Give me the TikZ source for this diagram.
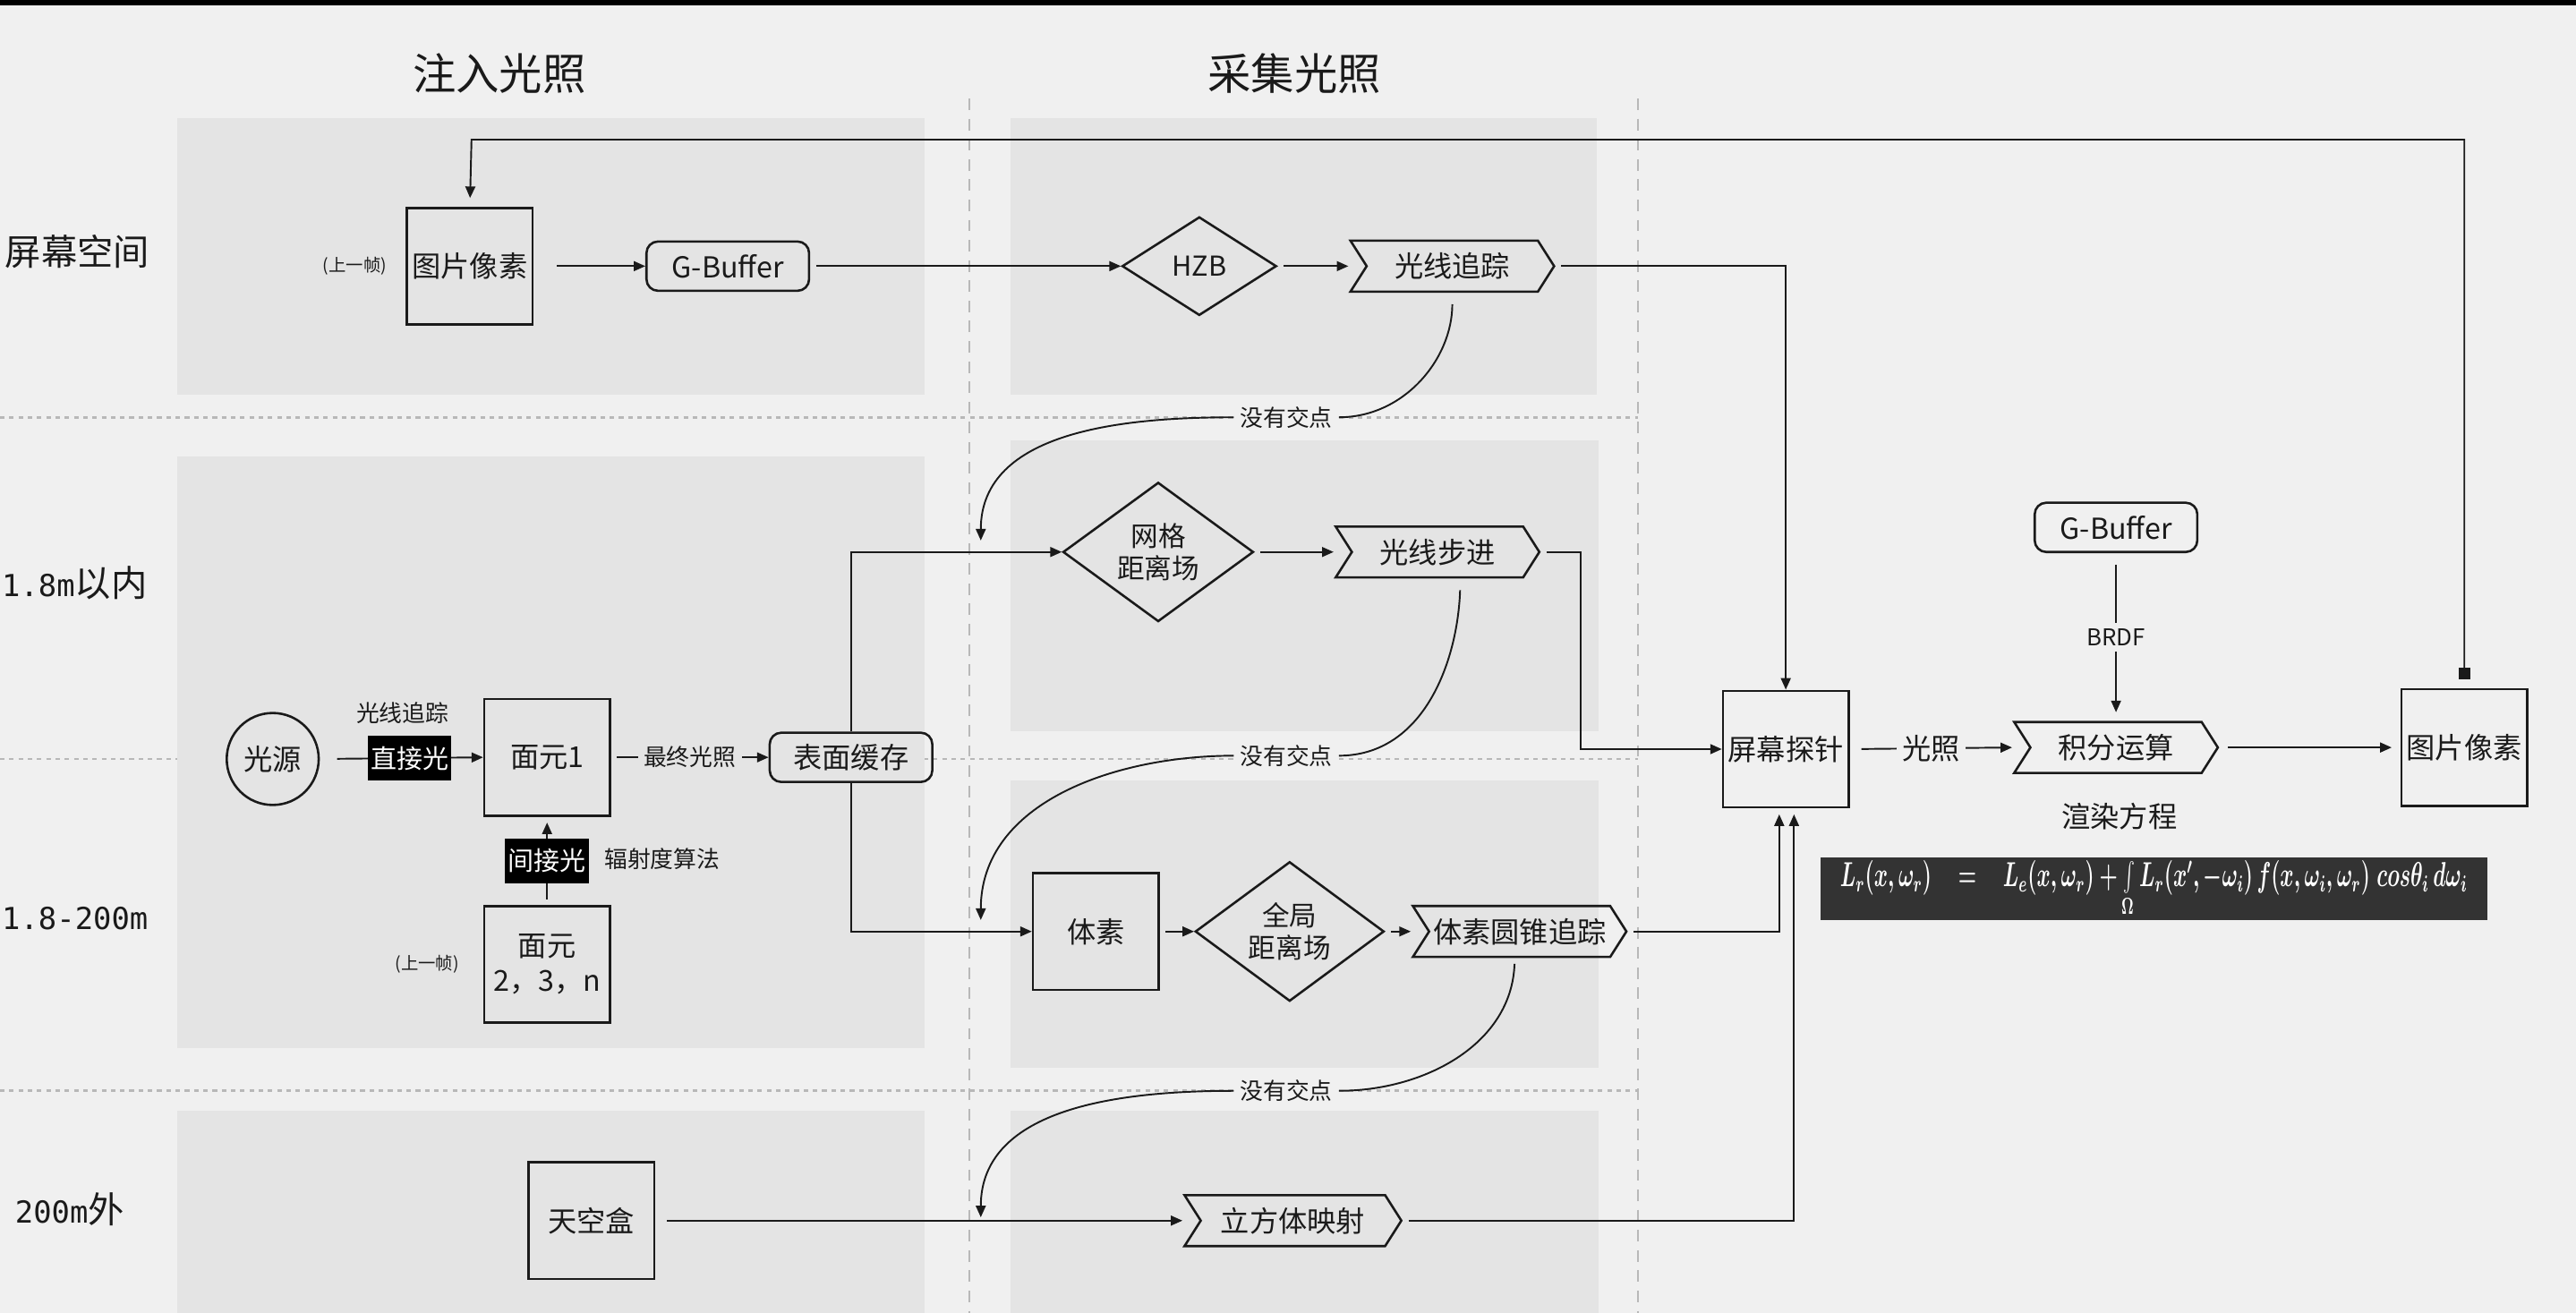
\documentclass[tikz,border=0pt]{standalone}
\usepackage{graphicx}
\usepackage{fontspec}
\setmainfont{Noto Sans CJK SC}
\newfontfamily\monofnt{DejaVu Sans Mono}
\usetikzlibrary{shapes.geometric,shapes.symbols,arrows.meta,calc}

\definecolor{pagebg}{HTML}{F0F0F0}
\definecolor{panelbg}{HTML}{E4E4E4}
\definecolor{gridline}{HTML}{B8B8B8}
\definecolor{ink}{HTML}{1A1A1A}
\definecolor{eqbg}{HTML}{333333}

\begin{document}
\begin{tikzpicture}[x=0.02cm,y=-0.02cm,
  font=\fontsize{10}{12}\selectfont,
  every node/.style={text=ink},
  boxnode/.style={draw=ink,line width=0.8pt,minimum width=1.53cm,minimum height=1.42cm,inner sep=1pt,align=center},
  roundnode/.style={draw=ink,line width=0.8pt,rounded corners=4pt,minimum width=1.98cm,minimum height=0.6cm,inner sep=1pt},
  decision/.style={diamond,draw=ink,line width=0.8pt,inner sep=0pt,align=center,font=\fontsize{9.5}{11}\selectfont},
  process/.style={signal,signal from=west,signal to=east,signal pointer angle=115,draw=ink,line width=0.8pt,minimum height=0.62cm,inner sep=1pt},
  darklabel/.style={fill=black,text=white,minimum width=0.96cm,minimum height=0.55cm,inner sep=1pt,font=\fontsize{9}{10}\selectfont},
  smalltext/.style={font=\fontsize{8}{9}\selectfont},
  tinytext/.style={font=\fontsize{6}{7}\selectfont},
  rowlabel/.style={anchor=west,font=\fontsize{12.5}{14}\selectfont},
  coltitle/.style={font=\fontsize{15}{18}\selectfont},
  wire/.style={draw=ink,line width=0.6pt},
  conn/.style={wire,-{Triangle[length=4pt,width=3.4pt]}},
  gapfill/.style={fill=#1,inner sep=2pt},
]
\useasboundingbox (0,0) rectangle (1568,799);

% page background and top band
\fill[pagebg] (0,0) rectangle (1568,799);
\fill[black] (0,0) rectangle (1568,3.5);

% guide lines between rows and columns
\begin{scope}[gridline,line width=0.8pt,dash pattern=on 1.6pt off 1.6pt]
  \draw (0,254) -- (997,254);
  \draw (0,462) -- (997,462);
  \draw (0,664) -- (997,664);
\end{scope}
\begin{scope}[gridline,line width=0.5pt,dash pattern=on 4pt off 3pt]
  \draw (590,60) -- (590,799);
  \draw (997,60) -- (997,799);
\end{scope}

% shaded panels
\begin{scope}[panelbg]
  \fill (108,72) rectangle (563,240);
  \fill (108,278) rectangle (563,638);
  \fill (108,676) rectangle (563,799);
  \fill (615,72) rectangle (972,240);
  \fill (615,268) rectangle (973,445);
  \fill (615,475) rectangle (973,650);
  \fill (615,676) rectangle (973,799);
\end{scope}

% column titles
\node[coltitle] (titleA) at (304,45) {注入光照};
\node[coltitle] (titleB) at (788,45) {采集光照};

% row labels
\node[rowlabel] (rowA) at (-3,153) {屏幕空间};
\node[rowlabel] (rowB) at (-5,355) {{\monofnt\fontsize{10.5}{12}\selectfont 1.8m}以内};
\node[rowlabel] (rowC) at (-5,559) {{\monofnt\fontsize{10.5}{12}\selectfont 1.8-200m}};
\node[rowlabel] (rowD) at (3,736) {{\monofnt\fontsize{10.5}{12}\selectfont 200m}外};

% screen space row
\node[boxnode] (pixA) at (286,162) {图片像素};
\node[tinytext] (prevA) at (216,162) {(上一帧)};
\node[roundnode] (gbA) at (443,162) {G-Buffer};
\node[decision,minimum width=1.88cm,minimum height=1.2cm] (hzb) at (730,162) {HZB};
\node[process,minimum width=2.48cm] (rt) at (884,162) {光线追踪};

% near field row
\node[decision,minimum width=2.32cm,minimum height=1.4cm] (sdf) at (705,336) {网格\\距离场};
\node[process,minimum width=2.48cm] (rm) at (875,336) {光线步进};
\node[circle,draw=ink,line width=0.8pt,minimum size=1.12cm,inner sep=0pt] (light) at (166,462) {光源};
\node[boxnode] (f1) at (333,461) {面元1};
\node[roundnode] (cache) at (518,461) {表面缓存};
\node[boxnode] (fn) at (333,587) {面元\\2，3，n};
\node[tinytext] (prevB) at (260,587) {(上一帧)};
\node[smalltext] (radio) at (403,523) {辐射度算法};
\node[smalltext] (rtlbl) at (245,434) {光线追踪};

% mid field row
\node[boxnode] (vox) at (667,567) {体素};
\node[decision,minimum width=2.3cm,minimum height=1.42cm] (gsdf) at (785,567) {全局\\距离场};
\node[process,minimum width=2.6cm] (cone) at (925,567) {体素圆锥追踪};

% far field row
\node[boxnode] (sky) at (360,743) {天空盒};
\node[process,minimum width=2.64cm] (cube) at (787,743) {立方体映射};

% final gather
\node[boxnode] (probe) at (1087,456) {屏幕探针};
\node[process,minimum width=2.48cm] (integ) at (1288,455) {积分运算};
\node[roundnode] (gbB) at (1288,321) {G-Buffer};
\node[boxnode] (pixB) at (1500,455) {图片像素};
\node (rendereq) at (1290,497) {渲染方程};
\node[fill=eqbg,text=white,minimum width=8.12cm,minimum height=0.76cm,inner sep=0pt,font=\fontsize{11.5}{13}\selectfont\boldmath] (eq) at (1311,541)
  {\scalebox{0.6}[1]{$L_r(x,\omega_r)\quad=\quad L_e(x,\omega_r)+\int\limits_\Omega L_r(x',-\omega_i)\,f(x,\omega_i,\omega_r)\;cos\theta_i\,d\omega_i$}};

% "no hit" labels
\node[smalltext,gapfill=pagebg] (miss1) at (783,254) {没有交点};
\node[smalltext,gapfill=pagebg] (miss2) at (783,460) {没有交点};
\node[smalltext,gapfill=pagebg] (miss3) at (783,664) {没有交点};

% free ends and bends
\coordinate (hit1) at (597,329);
\coordinate (hit2) at (597,560);
\coordinate (hit3) at (597,741);
\coordinate (rmturn) at (962,336);
\coordinate (probeL) at ($(probe.south)+(-4,0)$);
\coordinate (probeR) at ($(probe.south)+(5,0)$);
\coordinate (fbR) at (1500,85);
\coordinate (fbL) at (287,85);
\coordinate (rmfoot) at ($(rm.south)+(14,0)$);
\coordinate (conefoot) at ($(cone.south)+(-3,0)$);

% connectors: screen space
\draw[conn,shorten <=8pt] (pixA.east) -- (gbA.west);
\draw[conn,shorten <=2pt] (gbA.east) -- (hzb.west);
\draw[conn,shorten <=2pt] (hzb.east) -- (rt.north west |- rt.center);
\draw[conn,shorten <=2pt] (rt.east) -| (probe.north);
\draw[wire,{Square[length=4pt,width=4pt]}-{Triangle[length=4pt,width=3.4pt]},shorten <=3pt,shorten >=3pt]
  (pixB.north) -- (fbR) -- (fbL) -- (pixA.north);

% connectors: injection
\draw[conn,shorten <=6pt] (light.east) -- node[darklabel,pos=0.55] (direct) {直接光} (f1.west);
\draw[conn,shorten <=2pt,shorten >=2pt] (fn.north) -- node[darklabel] (indirect) {间接光} (f1.south);
\draw[conn,shorten <=2pt] (f1.east) -- node[smalltext,gapfill=panelbg] (final) {最终光照} (cache.west);

% connectors: gathering
\draw[conn] (cache.north) |- (sdf.west);
\draw[conn] (cache.south) |- (vox.west);
\draw[conn,shorten <=2pt] (sdf.east) -- (rm.north west |- rm.center);
\draw[conn,shorten <=2pt] (rm.east) -- (rmturn) |- (probe.west);
\draw[conn,shorten <=2pt] (vox.east) -- (gsdf.west);
\draw[conn,shorten <=2pt] (gsdf.east) -- (cone.north west |- cone.center);
\draw[conn,shorten <=2pt,shorten >=2pt] (cone.east) -| (probeL);
\draw[conn,shorten <=4pt] (sky.east) -- (cube.north west |- cube.center);
\draw[conn,shorten <=2pt,shorten >=2pt] (cube.east) -| (probeR);

% fallbacks when a trace finds no hit
\draw[wire,shorten <=4pt] (rt.south) to[out=-90,in=0] (miss1.east);
\draw[conn] (miss1.west) to[out=180,in=90] (hit1);
\draw[wire,shorten <=4pt] (rmfoot) to[out=-92,in=0] (miss2.east);
\draw[conn] (miss2.west) to[out=180,in=90] (hit2);
\draw[wire,shorten <=2pt] (conefoot) to[out=-92,in=0] (miss3.east);
\draw[conn] (miss3.west) to[out=180,in=90] (hit3);

% shading
\draw[conn,shorten <=4pt] (probe.east) -- node[gapfill=pagebg] (lightlbl) {光照} (integ.north west |- integ.center);
\draw[conn,shorten <=4pt,shorten >=3pt] (gbB.south) -- node[smalltext,gapfill=pagebg] (brdf) {BRDF} (integ.north);
\draw[conn,shorten <=3pt,shorten >=3pt] (integ.east) -- (pixB.west);
\end{tikzpicture}
\end{document}
